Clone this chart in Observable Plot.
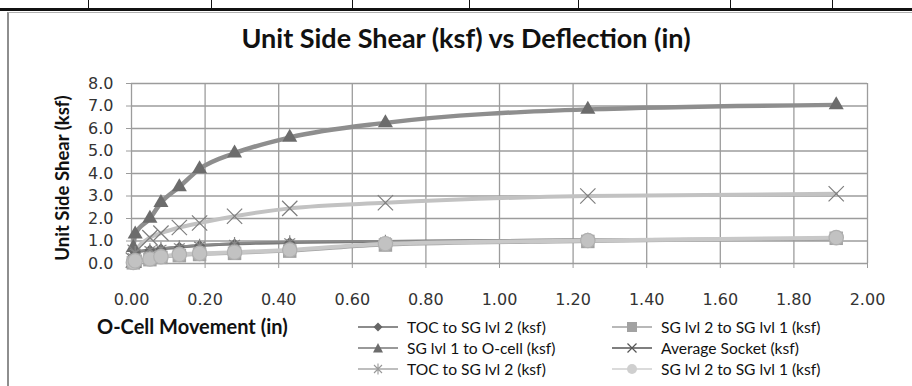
<!DOCTYPE html>
<html><head><meta charset="utf-8">
<script src="https://cdn.jsdelivr.net/npm/d3@7"></script>
<script src="https://cdn.jsdelivr.net/npm/@observablehq/plot@0.6"></script>
<style>
  html,body{margin:0;padding:0;background:#fff;}
  body{width:912px;height:386px;overflow:hidden;position:relative;font-family:Lato,"Open Sans",sans-serif;color:#111;}
  .abs{position:absolute;}
  #topline{left:0;top:8px;width:912px;height:3px;background:#111;}
  .cell{position:absolute;top:0;width:1px;height:10px;background:#111;}
  #frame{left:7px;top:12px;width:920px;height:400px;border-left:2px solid #8e8e8e;border-top:1px solid #b0b0b0;}
  #title{left:0;width:932px;top:37px;transform:translateY(-50%);text-align:center;font-size:27px;font-weight:700;white-space:nowrap;color:#111;line-height:1;}
  #ylab{left:62px;top:178px;transform:translate(-50%,-50%) rotate(-90deg);font-size:18.5px;font-weight:700;white-space:nowrap;line-height:1;}
  #xlab{left:97px;top:326px;transform:translateY(-50%);font-size:20px;font-weight:700;white-space:nowrap;line-height:1;}
  .leg{position:absolute;display:flex;align-items:center;font-size:15.6px;white-space:nowrap;height:18px;}
  .leg svg{margin-right:9px;}
  #chart{left:0;top:0;}
</style></head><body>
<div id="frame" class="abs"></div>
<div id="topline" class="abs"></div>
<div id="chart" class="abs"></div>
<div id="title" class="abs">Unit Side Shear (ksf) vs Deflection (in)</div>
<div id="ylab" class="abs">Unit Side Shear (ksf)</div>
<div id="xlab" class="abs">O-Cell Movement (in)</div>
<div id="legend"></div>
<script>
// ---- data ----
const movement      = [0.00, 0.005, 0.01, 0.05, 0.08, 0.13, 0.185, 0.28, 0.43, 0.69, 1.24, 1.915];
const tocToSg2      = [0.00, 0.30, 0.50, 0.60, 0.65, 0.72, 0.80, 0.87, 0.93, 0.98, 1.05, 1.10];
const sg2ToSg1      = [0.00, 0.03, 0.10, 0.17, 0.27, 0.35, 0.40, 0.45, 0.55, 0.82, 0.98, 1.12];
const sg1ToOcell    = [0.00, 0.70, 1.30, 2.00, 2.70, 3.40, 4.20, 4.90, 5.60, 6.25, 6.85, 7.05];
const averageSocket = [0.00, 0.15, 0.50, 1.15, 1.35, 1.60, 1.80, 2.10, 2.45, 2.70, 3.00, 3.10];
const tocToSg2b     = [0.00, 0.30, 0.50, 0.62, 0.68, 0.75, 0.82, 0.90, 0.97, 1.00, 1.08, 1.12];
const sg2ToSg1b     = [0.00, 0.05, 0.12, 0.20, 0.30, 0.40, 0.45, 0.50, 0.60, 0.88, 1.02, 1.15];
const xTicks = [0.0, 0.2, 0.4, 0.6, 0.8, 1.0, 1.2, 1.4, 1.6, 1.8, 2.0];
const yTicks = [0, 1, 2, 3, 4, 5, 6, 7, 8];
const seriesNames = ["TOC to SG lvl 2 (ksf)", "SG lvl 2 to SG lvl 1 (ksf)", "SG lvl 1 to O-cell  (ksf)",
                     "Average Socket (ksf)", "TOC to SG lvl 2 (ksf)", "SG lvl 2 to SG lvl 1 (ksf)"];
const cellEdges = [88, 211, 352, 469, 578, 730, 832];

// page decoration (table edges above the chart)
cellEdges.forEach(x => { const d = document.createElement("div"); d.className = "cell"; d.style.left = x + "px"; document.body.appendChild(d); });

const rows = vals => movement.map((x, i) => ({x, y: vals[i]}));
const curve = "monotone-x";

const styles = [
  {vals: tocToSg2,      line: "#7a7a7a", lw: 3,   symbol: "diamond2", r: 5,   fill: "#666", stroke: "none"},
  {vals: sg2ToSg1,      line: "#a4a4a4", lw: 3,   symbol: "square",   r: 7.6, fill: "#a2a2a2", stroke: "none"},
  {vals: sg1ToOcell,    line: "#8e8e8e", lw: 4.5, symbol: "triangle", r: 5.6, fill: "#6c6c6c", stroke: "none"},
  {vals: averageSocket, line: "#c2c2c2", lw: 4,   symbol: "times",    r: 7,   fill: "none", stroke: "#7e7e7e"},
  {vals: tocToSg2b,     line: "#8a8a8a", lw: 2,   symbol: "asterisk", r: 6,   fill: "none", stroke: "#888"},
  {vals: sg2ToSg1b,     line: "#c8c8c8", lw: 4,   symbol: "circle",   r: 7.2, fill: "#c2c2c2", stroke: "#b0b0b0"}
];

const marks = [
  Plot.gridX(xTicks, {stroke: "#9c9c9c", strokeOpacity: 1, strokeWidth: 1.3}),
  Plot.gridY(yTicks, {stroke: "#9c9c9c", strokeOpacity: 1, strokeWidth: 1.3}),
  Plot.axisX(xTicks, {tickSize: 5, tickPadding: 25, stroke: "#9c9c9c", fill: "#333", tickFormat: d => d.toFixed(2), label: null}),
  Plot.axisY(yTicks, {tickSize: 5, tickPadding: 13, stroke: "#9c9c9c", fill: "#333", tickFormat: d => d.toFixed(1), label: null})
];
styles.forEach(s => {
  marks.push(Plot.line(rows(s.vals), {x: "x", y: "y", stroke: s.line, strokeWidth: s.lw, curve}));
});
styles.forEach(s => {
  marks.push(Plot.dot(rows(s.vals).slice(1), {x: "x", y: "y", symbol: s.symbol, r: s.r, fill: s.fill, stroke: s.stroke, strokeWidth: 1.2}));
});

const chart = Plot.plot({
  width: 912, height: 386,
  marginTop: 83, marginBottom: 123, marginLeft: 131, marginRight: 45,
  x: {domain: [0, 2]},
  y: {domain: [0, 8]},
  style: {background: "transparent", fontFamily: "'DejaVu Sans', Verdana, sans-serif", fontSize: "16px", overflow: "visible"},
  marks
});
document.getElementById("chart").appendChild(chart);

// legend
const legPos = [[358, 327], [612, 327], [358, 348], [612, 348], [358, 369], [612, 369]];
const legLine = ["#666", "#a0a0a0", "#777", "#555", "#a8a8a8", "#cfcfcf"];
const legMark = [
  '<path d="M20 1.5 L24.5 6 L20 10.5 L15.5 6 Z" fill="#666"/>',
  '<rect x="15" y="1" width="10" height="10" fill="#a2a2a2"/>',
  '<path d="M20 1 L25 10.5 L15 10.5 Z" fill="#6c6c6c"/>',
  '<path d="M15.5 1.5 L24.5 10.5 M24.5 1.5 L15.5 10.5" stroke="#555" stroke-width="1.2"/>',
  '<path d="M16 2 L24 10 M24 2 L16 10 M20 0.5 L20 11.5" stroke="#999" stroke-width="1.1"/>',
  '<circle cx="20" cy="6" r="5" fill="#cfcfcf"/>'
];
const legend = document.getElementById("legend");
seriesNames.forEach((name, i) => {
  const d = document.createElement("div");
  d.className = "leg";
  d.style.left = legPos[i][0] + "px";
  d.style.top = (legPos[i][1] - 9) + "px";
  d.innerHTML = `<svg width="40" height="12" viewBox="0 0 40 12"><line x1="0" y1="6" x2="40" y2="6" stroke="${legLine[i]}" stroke-width="1.6"/>${legMark[i]}</svg><span>${name}</span>`;
  legend.appendChild(d);
});
</script>
</body></html>
